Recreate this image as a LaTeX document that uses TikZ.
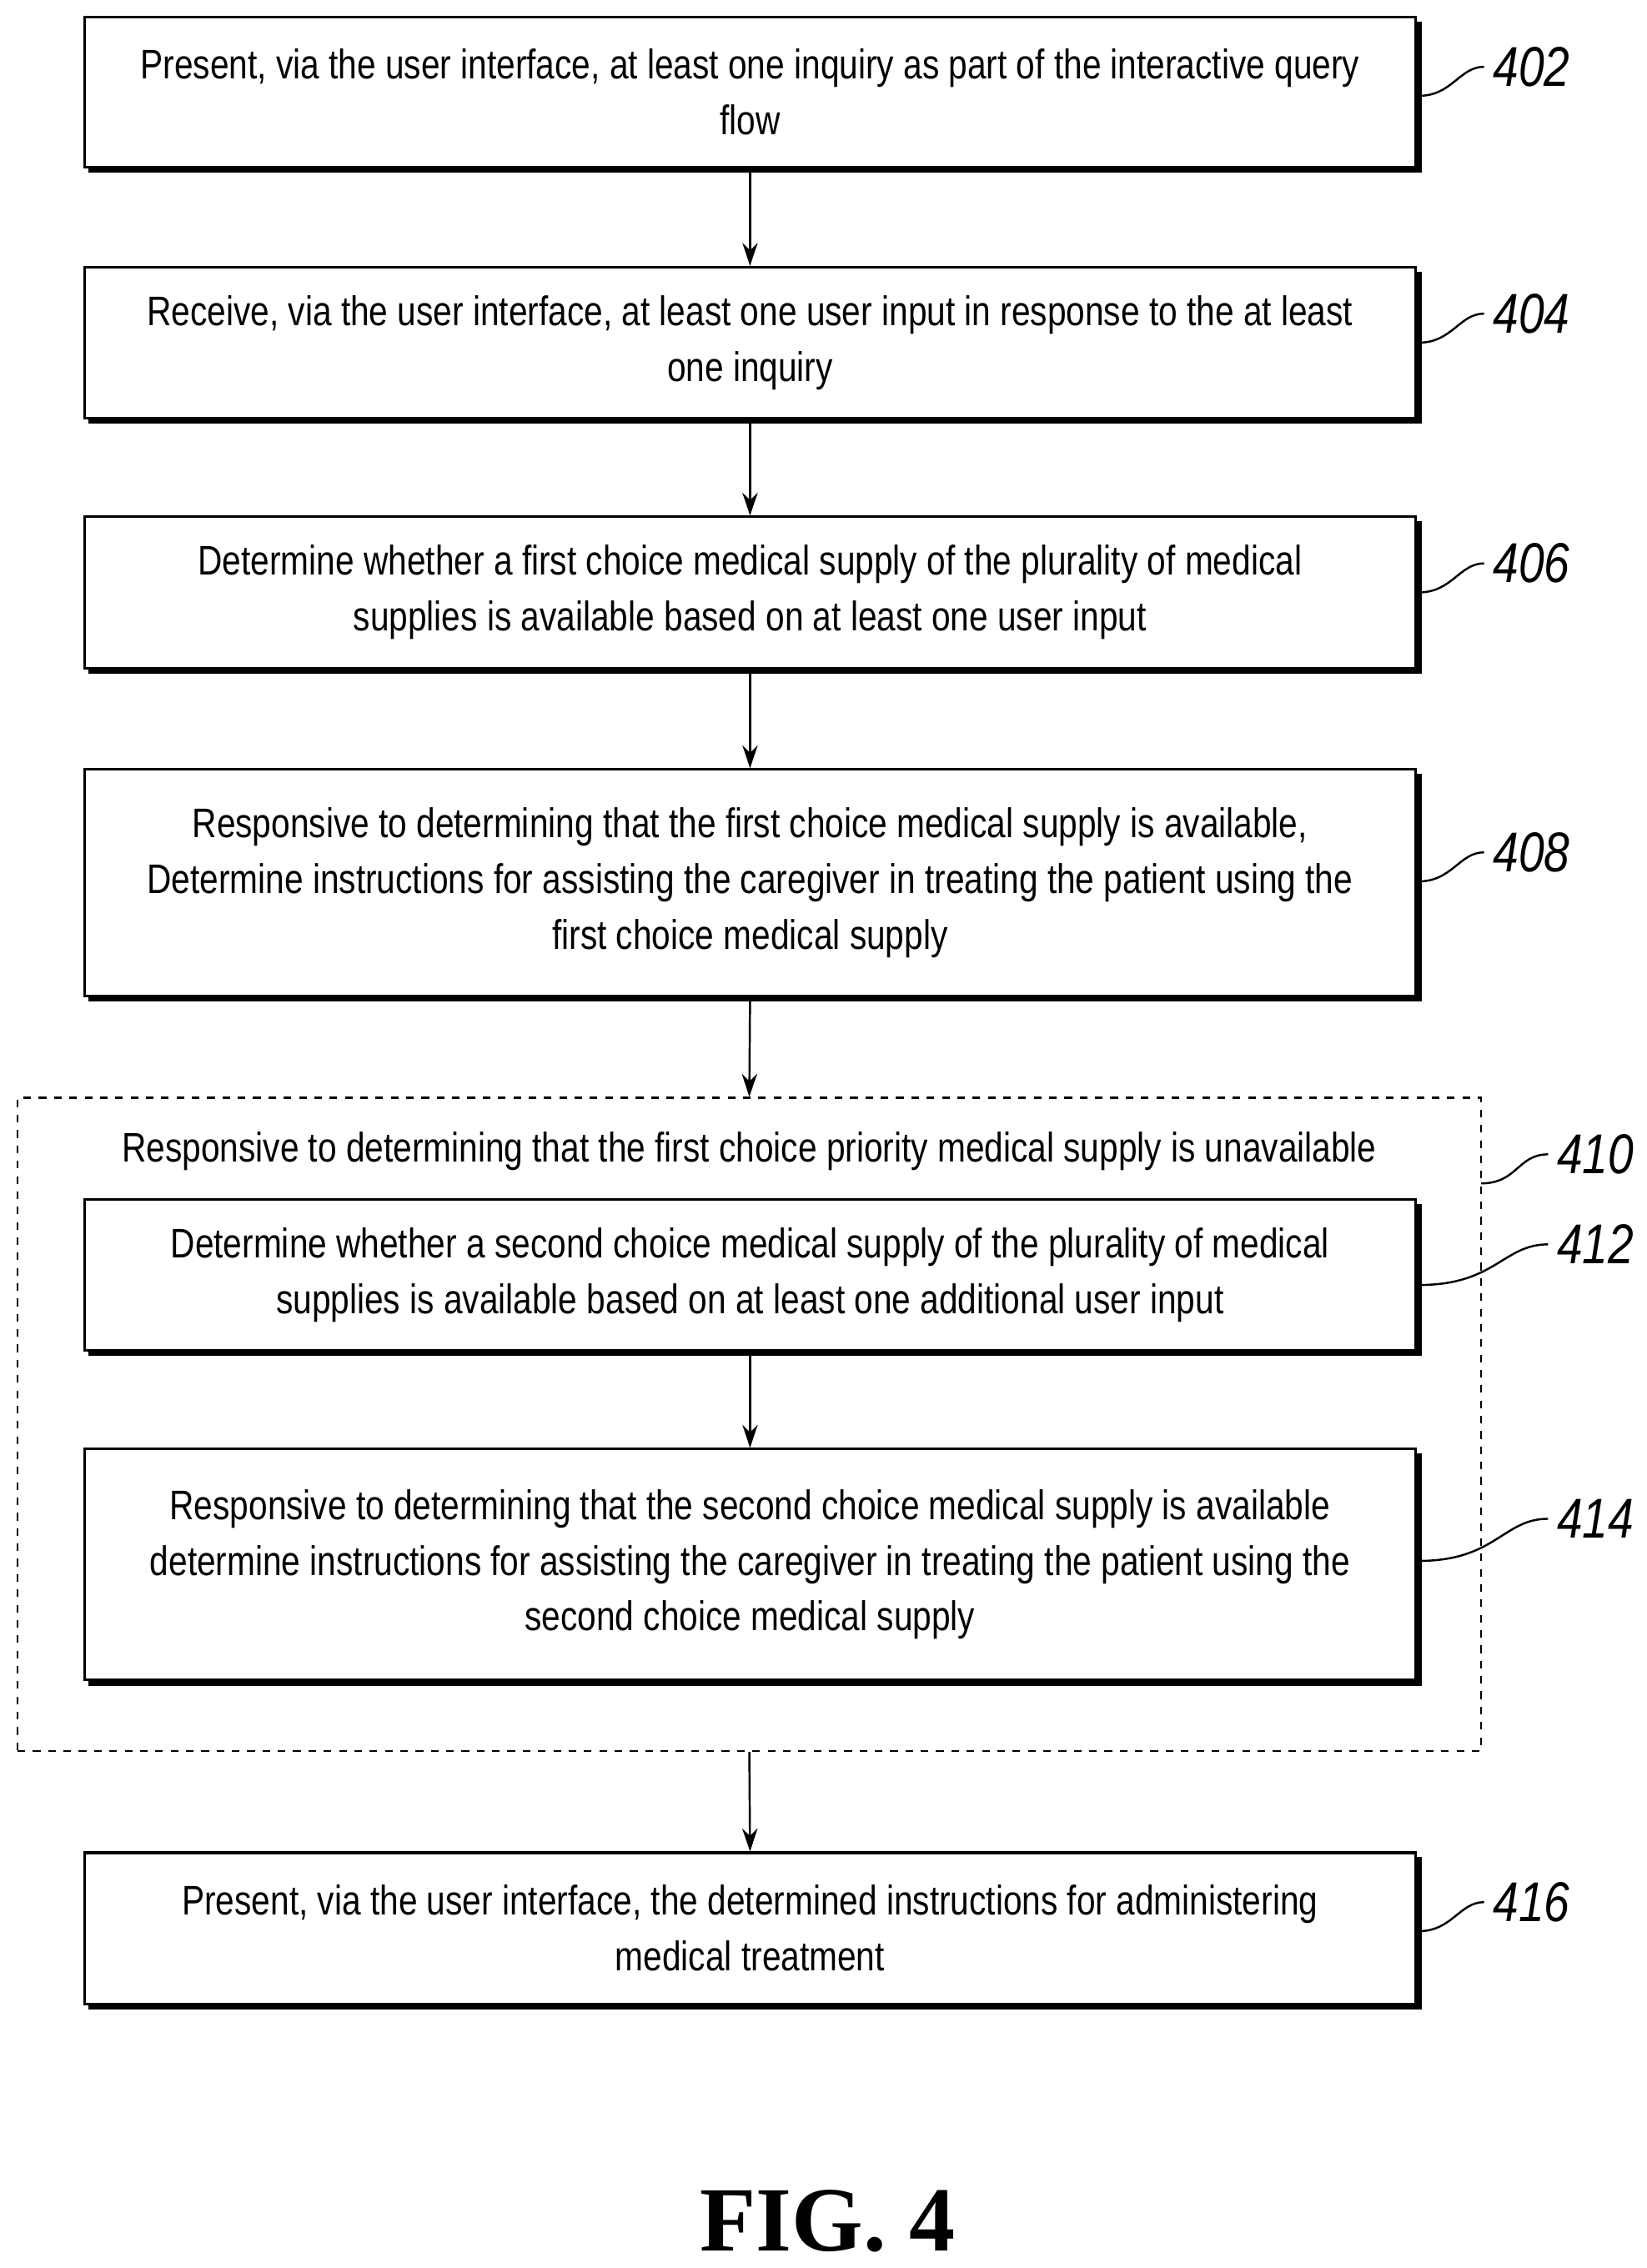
\documentclass[tikz,border=0pt]{standalone}
\usepackage{fontspec}
\setmainfont{Liberation Sans}[FakeStretch=0.82]
\newfontfamily\figfont{Liberation Serif}
\usetikzlibrary{arrows.meta}
\begin{document}
\begin{tikzpicture}[x=0.02cm,y=-0.02cm,
  box/.style={draw,line width=1pt,fill=white,minimum width=18.34cm,inner sep=0pt,align=center,
    font=\fontsize{16.2}{21.8}\selectfont},
  lab/.style={font=\fontsize{22}{24}\selectfont\itshape,anchor=west},
  lead/.style={line width=0.8pt},
  arr/.style={-{Stealth[length=9pt,width=6pt]},line width=0.8pt}]
\useasboundingbox (0,0) rectangle (1134,1562);
\newcommand{\stepbox}[4]{% name, top, bottom, text
  \draw[line width=2.2pt] (61,#3+2) -- (977,#3+2) -- (977,#2+3);
  \node[box,minimum height=(#3-#2)*0.02cm] (#1) at (516.5,{(#2+#3)/2}) {#4};}
\stepbox{b402}{12}{115}{Present, via the user interface, at least one inquiry as part of the interactive query\\flow}
\stepbox{b404}{184}{288}{Receive, via the user interface, at least one user input in response to the at least\\one inquiry}
\stepbox{b406}{356}{460}{Determine whether a first choice medical supply of the plurality of medical\\supplies is available based on at least one user input}
\stepbox{b408}{530}{686}{Responsive to determining that the first choice medical supply is available,\\Determine instructions for assisting the caregiver in treating the patient using the\\first choice medical supply}
\node[draw,dashed,line width=0.8pt,minimum width=20.16cm,minimum height=9cm] (b410) at (516,981) {};
\node[font=\fontsize{16.2}{21.8}\selectfont] (t410) at (516,793) {Responsive to determining that the first choice priority medical supply is unavailable};
\stepbox{b412}{826}{930}{Determine whether a second choice medical supply of the plurality of medical\\supplies is available based on at least one additional user input}
\stepbox{b414}{998}{1157}{Responsive to determining that the second choice medical supply is available\\determine instructions for assisting the caregiver in treating the patient using the\\second choice medical supply}
\stepbox{b416}{1276}{1380}{Present, via the user interface, the determined instructions for administering\\medical treatment}
\draw[arr] (b402.south) -- (b404.north);
\draw[arr] (b404.south) -- (b406.north);
\draw[arr] (b406.south) -- (b408.north);
\draw[arr] (b408.south) -- (b410.north);
\draw[arr] (b412.south) -- (b414.north);
\draw[arr] (b410.south) -- (b416.north);
\node[lab] (l402) at (1022,46) {402};
\node[lab] (l404) at (1022,216) {404};
\node[lab] (l406) at (1022,388) {406};
\node[lab] (l408) at (1022,587) {408};
\node[lab] (l410) at (1066,795) {410};
\node[lab] (l412) at (1066,857) {412};
\node[lab] (l414) at (1066,1046) {414};
\node[lab] (l416) at (1022,1310) {416};
\foreach \l/\y in {402/46,404/216,406/388,408/587,416/1310}{
  \draw[lead] (977,\y+20) .. controls (1000,\y+20) and (1005,\y) .. (l\l.west);}
\draw[lead] (1020,815) .. controls (1045,815) and (1045,795) .. (l410.west);
\draw[lead] (977,885) .. controls (1030,885) and (1035,857) .. (l412.west);
\draw[lead] (977,1075) .. controls (1030,1075) and (1035,1046) .. (l414.west);
\node[font=\figfont\bfseries\fontsize{36}{40}\selectfont] (fig) at (570,1530) {FIG. 4};
\end{tikzpicture}
\end{document}
